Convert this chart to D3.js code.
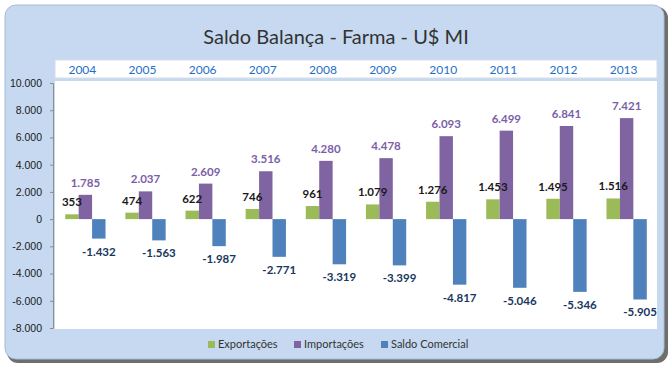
<!DOCTYPE html>
<html>
<head>
<meta charset="utf-8">
<script src="https://cdn.jsdelivr.net/npm/d3@7"></script>
<style>
  body { margin: 0; background: #fff; }
  svg { display: block; font-family: Lato, "Open Sans", sans-serif; }
</style>
</head>
<body>
<svg id="chart"></svg>
<script>
const years = ["2004", "2005", "2006", "2007", "2008", "2009", "2010", "2011", "2012", "2013"];
const exportacoes = [353, 474, 622, 746, 961, 1079, 1276, 1453, 1495, 1516];
const importacoes = [1785, 2037, 2609, 3516, 4280, 4478, 6093, 6499, 6841, 7421];
const saldo = [-1432, -1563, -1987, -2771, -3319, -3399, -4817, -5046, -5346, -5905];
const seriesNames = ["Exportações", "Importações", "Saldo Comercial"];
const yTicks = [10000, 8000, 6000, 4000, 2000, 0, -2000, -4000, -6000, -8000];

const width = 672;
const height = 373;
const colors = ["#9bbb59", "#8064a2", "#4f81bd"];
const labelColors = ["#1a1a1a", "#7b5ea7", "#17375e"];

// pt-BR style: dot thousands, plain hyphen minus
const fmt = (v) => d3.format(",")(v).replace(/,/g, ".").replace("\u2212", "-");

const svg = d3.select("#chart").attr("width", width).attr("height", height);

// outer frame with shadow
svg.append("rect")
  .attr("x", 7).attr("y", 7).attr("width", 661).attr("height", 356)
  .attr("rx", 11).attr("fill", "#6e6e6e");
svg.append("rect")
  .attr("x", 5).attr("y", 5).attr("width", 659).attr("height", 354)
  .attr("rx", 11).attr("fill", "#c6d9f1").attr("stroke", "#a7bcd6").attr("stroke-width", 1);

svg.append("text")
  .attr("x", 336).attr("y", 44)
  .attr("text-anchor", "middle")
  .style("font-size", "20px")
  .attr("fill", "#333")
  .text("Saldo Balança - Farma - U$ MI");

const plot = { left: 55, right: 657, top: 81, bottom: 329 };

// year strip
svg.append("rect")
  .attr("x", plot.left).attr("y", 60)
  .attr("width", plot.right - plot.left).attr("height", 18)
  .attr("fill", "#fff").attr("stroke", "#d6dee8");

// plot area
svg.append("rect")
  .attr("x", plot.left).attr("y", plot.top)
  .attr("width", plot.right - plot.left).attr("height", plot.bottom - plot.top)
  .attr("fill", "#fff");

const x = d3.scaleBand()
  .domain(years)
  .range([plot.left, plot.right])
  .paddingInner(0.33)
  .paddingOuter(0.17);

const xSub = d3.scaleBand()
  .domain([0, 1, 2])
  .range([0, x.bandwidth()]);

const y = d3.scaleLinear().domain([-8000, 10000]).range([328, 83]);

const yAxis = d3.axisLeft(y)
  .tickValues(yTicks)
  .tickSize(3)
  .tickPadding(8)
  .tickFormat(fmt);

const yg = svg.append("g")
  .attr("transform", `translate(${plot.left - 2},0)`)
  .call(yAxis);
yg.selectAll("text").style("font-size", "10.5px").attr("fill", "#1a1a1a");
yg.selectAll("line").attr("stroke", "#8c8c8c");
yg.select(".domain").attr("stroke", "#8c8c8c");

// year labels on top
svg.append("g")
  .selectAll("text")
  .data(years)
  .join("text")
  .attr("x", (d) => x(d) + x.bandwidth() / 2 - 3)
  .attr("y", 74)
  .attr("text-anchor", "middle")
  .style("font-size", "12px")
  .attr("fill", "#1f6fc6")
  .text((d) => d);

const series = [exportacoes, importacoes, saldo];
const barsG = svg.append("g");
const labelsG = svg.append("g");

series.forEach((vals, si) => {
  barsG.append("g")
    .selectAll("rect")
    .data(vals)
    .join("rect")
    .attr("x", (d, i) => x(years[i]) + xSub(si))
    .attr("width", xSub.bandwidth())
    .attr("y", (d) => y(Math.max(0, d)))
    .attr("height", (d) => Math.abs(y(d) - y(0)))
    .attr("fill", colors[si]);

  labelsG.append("g")
    .selectAll("text")
    .data(vals)
    .join("text")
    .attr("x", (d, i) => x(years[i]) + xSub(si) + xSub.bandwidth() / 2)
    .attr("y", (d) => (d >= 0 ? y(d) - 8 : y(d) + 17))
    .attr("text-anchor", "middle")
    .style("font-size", "11.5px")
    .style("font-weight", "bold")
    .attr("fill", labelColors[si])
    .text((d) => fmt(d));
});

// legend
const legendX = [208, 294, 381];
const legend = svg.append("g");
seriesNames.forEach((name, i) => {
  legend.append("rect")
    .attr("x", legendX[i]).attr("y", 341)
    .attr("width", 7).attr("height", 7)
    .attr("fill", colors[i]);
  legend.append("text")
    .attr("x", legendX[i] + 10).attr("y", 348)
    .style("font-size", "11px")
    .attr("fill", "#333")
    .text(name);
});
</script>
</body>
</html>
